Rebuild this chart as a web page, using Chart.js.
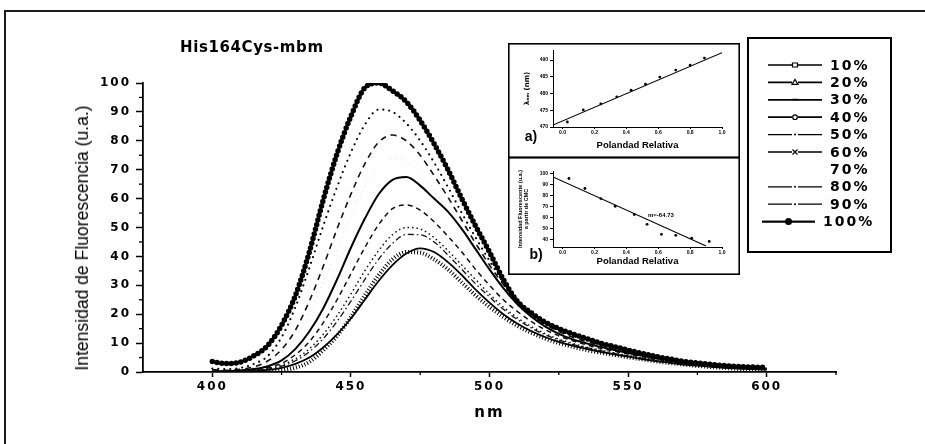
<!DOCTYPE html>
<html><head><meta charset="utf-8">
<script src="https://cdn.jsdelivr.net/npm/chart.js@4.4.1/dist/chart.umd.min.js"></script>
<style>
html,body{margin:0;padding:0;background:#fff;}
#wrap{position:relative;width:925px;height:444px;overflow:hidden;background:#fff;}
canvas{position:absolute;}
#frameTop{position:absolute;left:4px;top:10px;width:930px;height:0;border-top:2px solid #1a1a1a;}
#frameLeft{position:absolute;left:4px;top:10px;width:0;height:440px;border-left:2px solid #1a1a1a;}
#title{position:absolute;left:180px;top:38px;font:bold 15px "DejaVu Sans";line-height:18px;letter-spacing:0.6px;color:#000;white-space:nowrap;}
#ytitle{position:absolute;left:82px;top:238px;font:18px "Liberation Sans Narrow","Liberation Sans";line-height:20px;color:#000;white-space:nowrap;transform-origin:50% 50%;}
</style></head>
<body>
<div id="wrap">
  <canvas id="main" width="925" height="444" style="left:0;top:0"></canvas>
  <div id="frameTop"></div><div id="frameLeft"></div>
  <div id="title">His164Cys-mbm</div>
  <div id="ytitle">Intensidad de Fluorescencia (u.a.)</div>
  <canvas id="insetA" width="232" height="115" style="left:508px;top:43px"></canvas>
  <canvas id="insetB" width="232" height="118" style="left:508px;top:157px"></canvas>
</div>
<script>
// ---------- main chart data ----------
const nm = [400,405,410,415,420,425,430,435,440,445,450,455,460,465,470,475,480,485,490,495,500,505,510,515,520,525,530,535,540,545,550,555,560,565,570,575,580,585,590,595,600];
const pct10  = [0,0,0,0.1,0.3,0.6,1.5,3.5,7.5,12.5,19,26.5,33.5,39,41.5,41.3,39,35.5,31,26.5,22.5,19,16,13.6,11.6,10,8.7,7.6,6.7,5.9,5.1,4.4,3.7,3.1,2.6,2.1,1.7,1.4,1.1,0.9,0.7];
const pct20  = [0,0,0.1,0.3,0.7,1.4,2.8,5,8.5,13,18.5,25,31.5,37,41,42.8,41.5,38,33.5,28.5,24,20,16.8,14.2,12.1,10.4,9.1,8,7,6.1,5.3,4.5,3.8,3.2,2.6,2.2,1.8,1.4,1.2,1,0.8];
const pct30  = [0.1,0.1,0.2,0.5,1,2,3.9,7,11.5,17.5,24.5,32,39,44.5,47.6,47.5,45,40.5,35.5,30.5,26,21.7,18.2,15.3,12.9,11.1,9.6,8.4,7.4,6.4,5.5,4.7,4,3.4,2.8,2.3,1.9,1.5,1.2,1,0.8];
const pct40  = [0.1,0.1,0.3,0.6,1.2,2.4,4.6,8,13,19.5,27,35,42,47.5,50,49.5,46.5,42,37,32,27,22.5,18.8,15.8,13.3,11.4,9.9,8.6,7.6,6.6,5.7,4.9,4.2,3.5,2.9,2.4,2,1.6,1.3,1.1,0.9];
const pct50  = [0.2,0.2,0.4,0.8,1.5,3,6,10.5,17,25,34,43,51,56.5,57.8,56,52,47,41.5,35.5,30,25,21,17.5,14.7,12.5,10.8,9.4,8.2,7.2,6.2,5.3,4.5,3.8,3.2,2.6,2.2,1.8,1.5,1.2,1.0];
const pct60  = [0.3,0.3,0.5,1,2,4,8,14,22,32,43,53,61.5,66.5,67.5,64.5,60,55.5,49.5,42.5,35.5,29,23.5,19.2,15.8,13.2,11.3,9.9,8.7,7.6,6.6,5.7,4.8,4,3.4,2.8,2.3,1.9,1.6,1.3,1.1];
const pct70  = [0.6,0.5,0.8,1.6,3.2,6.5,12,20.5,31,42.5,54,64,71,74,73,69,63,56,48.5,41.5,35,29,24,19.5,16,13.5,11.6,10.2,9,7.8,6.8,5.9,5,4.2,3.5,2.9,2.4,2,1.7,1.4,1.2];
const pct80  = [0.8,0.6,0.9,1.8,3.8,7.8,14.5,24.5,36.5,49.5,61.5,72,79.5,82,80,75,68,60.5,52.5,44.5,37,30.3,24.8,20.2,16.6,14,12,10.5,9.2,8,7,6,5.1,4.3,3.6,3,2.5,2.1,1.7,1.4,1.2];
const pct90  = [1.2,1.0,1.4,2.8,5.5,12,22.5,36,50.5,64,76,85.5,90.8,90,86,80,72.5,64,55,46.5,38.5,31,25,20.5,17,14.5,12.5,11,9.6,8.4,7.2,6.1,5.1,4.3,3.6,3,2.5,2.1,1.8,1.5,1.3];
const pct100 = [3.6,2.9,3.4,5.6,9.2,16.2,26.5,41.5,59.5,75.5,88.5,98.3,100,97.3,93.5,87,79,70,60,50.5,41.5,32,24.5,20.5,17.3,15,13.2,11.6,10,8.8,7.6,6.4,5.4,4.5,3.7,3.1,2.6,2.2,1.9,1.7,1.6];
const seriesNames = ['10%','20%','30%','40%','50%','60%','70%','80%','90%','100%'];
const seriesValues = [pct10,pct20,pct30,pct40,pct50,pct60,pct70,pct80,pct90,pct100];
const yMajor = [0,10,20,30,40,50,60,70,80,90,100];
const yMinor = [5,15,25,35,45,55,65,75,85,95];
const xMajor = [400,450,500,550,600];
const xMinor = [425,475,525,575,625];

// ---------- inset data ----------
const polA = [0.03,0.13,0.24,0.34,0.43,0.52,0.61,0.71,0.80,0.89];
const lambdaA = [471.5,475.1,476.9,479.0,481.0,482.8,484.9,487.0,488.5,490.6];
const fitAx = [-0.06,1.0];
const fitAy = [470.6,492.2];
const insetAYTicks = [470,475,480,485,490];
const polB = [0.04,0.14,0.24,0.33,0.45,0.53,0.62,0.71,0.81,0.92];
const intB = [95.2,86.1,77,70,62.5,53.6,44.5,43.6,41,38];
const fitBx = [-0.06,0.9];
const fitBy = [96.6,34];
const insetBYTicks = [40,50,60,70,80,90,100];
const insetXTicks = [0,0.2,0.4,0.6,0.8,1.0];

// ---------- styles (kept apart from data) ----------
const lineStyles = [
  {w:4,   dash:[1,2],     cap:'butt',  color:'#000'},
  {w:1.8, dash:[],        cap:'butt',  color:'#000'},
  {w:1.3, dash:[6,3,1.5,3],cap:'butt', color:'#111'},
  {w:1.5, dash:[1.5,3],   cap:'butt',  color:'#111'},
  {w:1.5, dash:[5,4],     cap:'butt',  color:'#111'},
  {w:2,   dash:[],        cap:'butt',  color:'#000'},
  {w:1,   dash:[1,4],     cap:'butt',  color:'rgba(0,0,0,0.15)'},
  {w:1.6, dash:[6,5],     cap:'butt',  color:'#111'},
  {w:2.2, dash:[0,6],     cap:'round', color:'#000'},
  {w:5.5, dash:[0,4.8],   cap:'round', color:'#000'}
];
const legendMarkers = ['square','triangle','bar','circle','dot','cross','none','dot','dot','bigdot'];

const datasets = seriesValues.map((vals,i)=>({
  label: seriesNames[i],
  data: nm.map((x,j)=>({x:x, y:vals[j]})),
  borderColor: lineStyles[i].color,
  borderWidth: lineStyles[i].w,
  borderDash: lineStyles[i].dash,
  borderCapStyle: lineStyles[i].cap,
  pointRadius: 0,
  fill: false,
  cubicInterpolationMode: 'monotone',
  order: 10 - i
}));

const spacingPlugin = {
  id:'spacing',
  beforeUpdate(c){ c.ctx.letterSpacing = '2px'; },
  beforeLayout(c){ c.ctx.letterSpacing = '2px'; },
  beforeDraw(c){ c.ctx.letterSpacing = '2px'; }
};

const mainDecor = {
  id:'mainDecor',
  afterDraw(c){
    const ctx = c.ctx, xs = c.scales.x, ys = c.scales.y, ca = c.chartArea;
    ctx.save();
    ctx.setLineDash([]);
    ctx.strokeStyle = '#000'; ctx.lineWidth = 1.3;
    yMinor.forEach(v=>{ const y = ys.getPixelForValue(v); ctx.beginPath(); ctx.moveTo(ca.left-4,y); ctx.lineTo(ca.left,y); ctx.stroke(); });
    xMinor.forEach(v=>{ const x = xs.getPixelForValue(v); ctx.beginPath(); ctx.moveTo(x,ca.bottom); ctx.lineTo(x,ca.bottom+3); ctx.stroke(); });
    // legend box
    ctx.lineWidth = 2;
    ctx.strokeRect(748,38,143,214);
    ctx.font = 'bold 14px "DejaVu Sans"';
    ctx.letterSpacing = '2px';
    ctx.textBaseline = 'middle'; ctx.textAlign = 'left';
    ctx.fillStyle = '#000';
    c.data.datasets.forEach((ds,i)=>{
      const y = 65 + i*17.4;
      const big = (i === 9);
      const x1 = big ? 762 : 768, x2 = big ? 815 : 822, xm = (x1+x2)/2, tx = big ? 823 : 830;
      const m = legendMarkers[i];
      ctx.strokeStyle = '#000'; ctx.fillStyle = '#000';
      if (m !== 'none') {
        ctx.lineWidth = (m==='dot') ? 1.3 : 1.7;
        ctx.beginPath(); ctx.moveTo(x1,y); ctx.lineTo(xm-3,y); ctx.moveTo(xm+3,y); ctx.lineTo(x2,y); ctx.stroke();
        ctx.lineWidth = 1.2;
        ctx.beginPath();
        if (m==='square') { ctx.rect(xm-2.5,y-2,5,4); ctx.fillStyle='#fff'; ctx.fill(); ctx.stroke(); }
        else if (m==='triangle') { ctx.moveTo(xm-3,y+2); ctx.lineTo(xm,y-3); ctx.lineTo(xm+3,y+2); ctx.closePath(); ctx.stroke(); }
        else if (m==='bar') { ctx.moveTo(xm-3,y); ctx.lineTo(xm+3,y); ctx.lineWidth=2; ctx.stroke(); }
        else if (m==='circle') { ctx.arc(xm,y,2.3,0,Math.PI*2); ctx.stroke(); }
        else if (m==='dot') { ctx.arc(xm,y,1,0,Math.PI*2); ctx.fill(); }
        else if (m==='cross') { ctx.moveTo(xm-2.5,y-2.5); ctx.lineTo(xm+2.5,y+2.5); ctx.moveTo(xm+2.5,y-2.5); ctx.lineTo(xm-2.5,y+2.5); ctx.stroke(); }
        else if (m==='bigdot') { ctx.moveTo(x1,y); ctx.lineTo(x2,y); ctx.lineWidth=1.7; ctx.stroke(); ctx.beginPath(); ctx.arc(xm,y,3.5,0,Math.PI*2); ctx.fill(); }
      }
      ctx.fillStyle = '#000';
      ctx.fillText(ds.label, tx, y+1);
    });
    ctx.restore();
  }
};

const tickFont = {family:'DejaVu Sans', size:12, weight:'bold'};

new Chart(document.getElementById('main'), {
  type:'line',
  data:{datasets: datasets},
  options:{
    responsive:false, animation:false, devicePixelRatio:1,
    layout:{padding:{left:0, top:83, right:89, bottom:0}},
    plugins:{legend:{display:false}, tooltip:{enabled:false}, title:{display:false}},
    scales:{
      x:{type:'linear', min:375, max:625,
        afterBuildTicks:s=>{ s.ticks = xMajor.map(v=>({value:v})); },
        afterFit:s=>{ s.height = 72; },
        grid:{drawOnChartArea:false, drawTicks:true, tickLength:5, tickWidth:1.5, tickColor:'#000'},
        border:{display:true, color:'#000', width:1.8},
        ticks:{color:'#000', font:tickFont, padding:3, maxRotation:0, autoSkip:false},
        title:{display:true, text:'nm', color:'#000', font:{family:'DejaVu Sans', size:15, weight:'bold'}, padding:{top:0, bottom:22}}
      },
      y:{type:'linear', min:0, max:100,
        afterBuildTicks:s=>{ s.ticks = yMajor.map(v=>({value:v})); },
        afterFit:s=>{ s.width = 143; },
        grid:{drawOnChartArea:false, drawTicks:true, tickLength:7, tickWidth:1.5, tickColor:'#000'},
        border:{display:true, color:'#000', width:1.8},
        ticks:{color:'#000', font:tickFont, padding:5, autoSkip:false}
      }
    }
  },
  plugins:[spacingPlugin, mainDecor]
});

// ---------- insets ----------
function insetDecor(label, lx, ly, extra) {
  return {
    id:'insetDecor',
    afterDraw(c){
      const ctx = c.ctx;
      ctx.save();
      ctx.setLineDash([]);
      ctx.strokeStyle = '#000'; ctx.lineWidth = 1.6;
      ctx.strokeRect(0.8,0.8,c.width-1.6,c.height-1.6);
      ctx.fillStyle = '#000';
      ctx.font = 'bold 14px "Liberation Sans"';
      ctx.textBaseline = 'middle'; ctx.textAlign = 'center';
      ctx.fillText(label, lx, ly);
      if (extra) {
        ctx.font = 'bold 6px "Liberation Sans"';
        ctx.textAlign = 'left';
        ctx.fillText(extra.text, extra.x, extra.y);
      }
      ctx.restore();
    }
  };
}
const smallTick = {family:'Liberation Sans', size:5, weight:'bold'};
function insetScales(yMin, yMax, yTicks, yTitle, yTitleFont, yTitlePad, xHeight, xTitlePad) {
  return {
    x:{type:'linear', min:-0.06, max:1.0,
      afterBuildTicks:s=>{ s.ticks = insetXTicks.map(v=>({value:v})); },
      afterFit:s=>{ s.height = xHeight; },
      grid:{drawOnChartArea:false, tickLength:2, tickColor:'#000'},
      border:{display:true, color:'#000', width:1},
      ticks:{color:'#000', font:smallTick, padding:1, maxRotation:0, autoSkip:false, callback:v=>Number(v).toFixed(1)},
      title:{display:true, text:'Polandad Relativa', color:'#000', font:{family:'Liberation Sans', size:9.5, weight:'bold'}, padding:{top:0, bottom:xTitlePad}}
    },
    y:{type:'linear', min:yMin, max:yMax,
      afterBuildTicks:s=>{ s.ticks = yTicks.map(v=>({value:v})); },
      afterFit:s=>{ s.width = 45; },
      grid:{drawOnChartArea:false, tickLength:3, tickColor:'#000'},
      border:{display:true, color:'#000', width:1},
      ticks:{color:'#000', font:smallTick, padding:2, autoSkip:false},
      title:{display:true, text:yTitle, color:'#000', font:yTitleFont, padding:{top:yTitlePad, bottom:0}}
    }
  };
}

new Chart(document.getElementById('insetA'), {
  type:'scatter',
  data:{datasets:[
    {data: polA.map((x,i)=>({x:x, y:lambdaA[i]})), pointRadius:1.4, pointBackgroundColor:'#000', pointBorderWidth:0, showLine:false},
    {data: fitAx.map((x,i)=>({x:x, y:fitAy[i]})), showLine:true, borderColor:'#000', borderWidth:1.1, pointRadius:0}
  ]},
  options:{
    responsive:false, animation:false, devicePixelRatio:1,
    layout:{padding:{top:7, right:18, left:0, bottom:0}},
    plugins:{legend:{display:false}, tooltip:{enabled:false}},
    scales: insetScales(470, 493, insetAYTicks, 'λₑₘ (nm)', {family:'DejaVu Sans', size:7, weight:'bold'}, 14.8, 31, 7.3)
  },
  plugins:[insetDecor('a)', 23, 94)]
});

new Chart(document.getElementById('insetB'), {
  type:'scatter',
  data:{datasets:[
    {data: polB.map((x,i)=>({x:x, y:intB[i]})), pointRadius:1.4, pointBackgroundColor:'#000', pointBorderWidth:0, showLine:false},
    {data: fitBx.map((x,i)=>({x:x, y:fitBy[i]})), showLine:true, borderColor:'#000', borderWidth:1.1, pointRadius:0}
  ]},
  options:{
    responsive:false, animation:false, devicePixelRatio:1,
    layout:{padding:{top:14, right:18, left:0, bottom:0}},
    plugins:{legend:{display:false}, tooltip:{enabled:false}},
    scales: insetScales(33, 102, insetBYTicks, ['Intensidad Fluorescente (u.a.)','a partir de CMC'], {family:'Liberation Sans', size:5.5, weight:'bold'}, 8.7, 28, 8.3)
  },
  plugins:[insetDecor('b)', 28, 98, {text:'m=-64.73', x:140, y:58})]
});

// y title: fit to the reference length
const yt = document.getElementById('ytitle');
const w = yt.offsetWidth;
yt.style.transform = 'translate(-50%,-50%) rotate(-90deg) scaleX(' + (265 / w) + ')';
</script>
</body></html>
